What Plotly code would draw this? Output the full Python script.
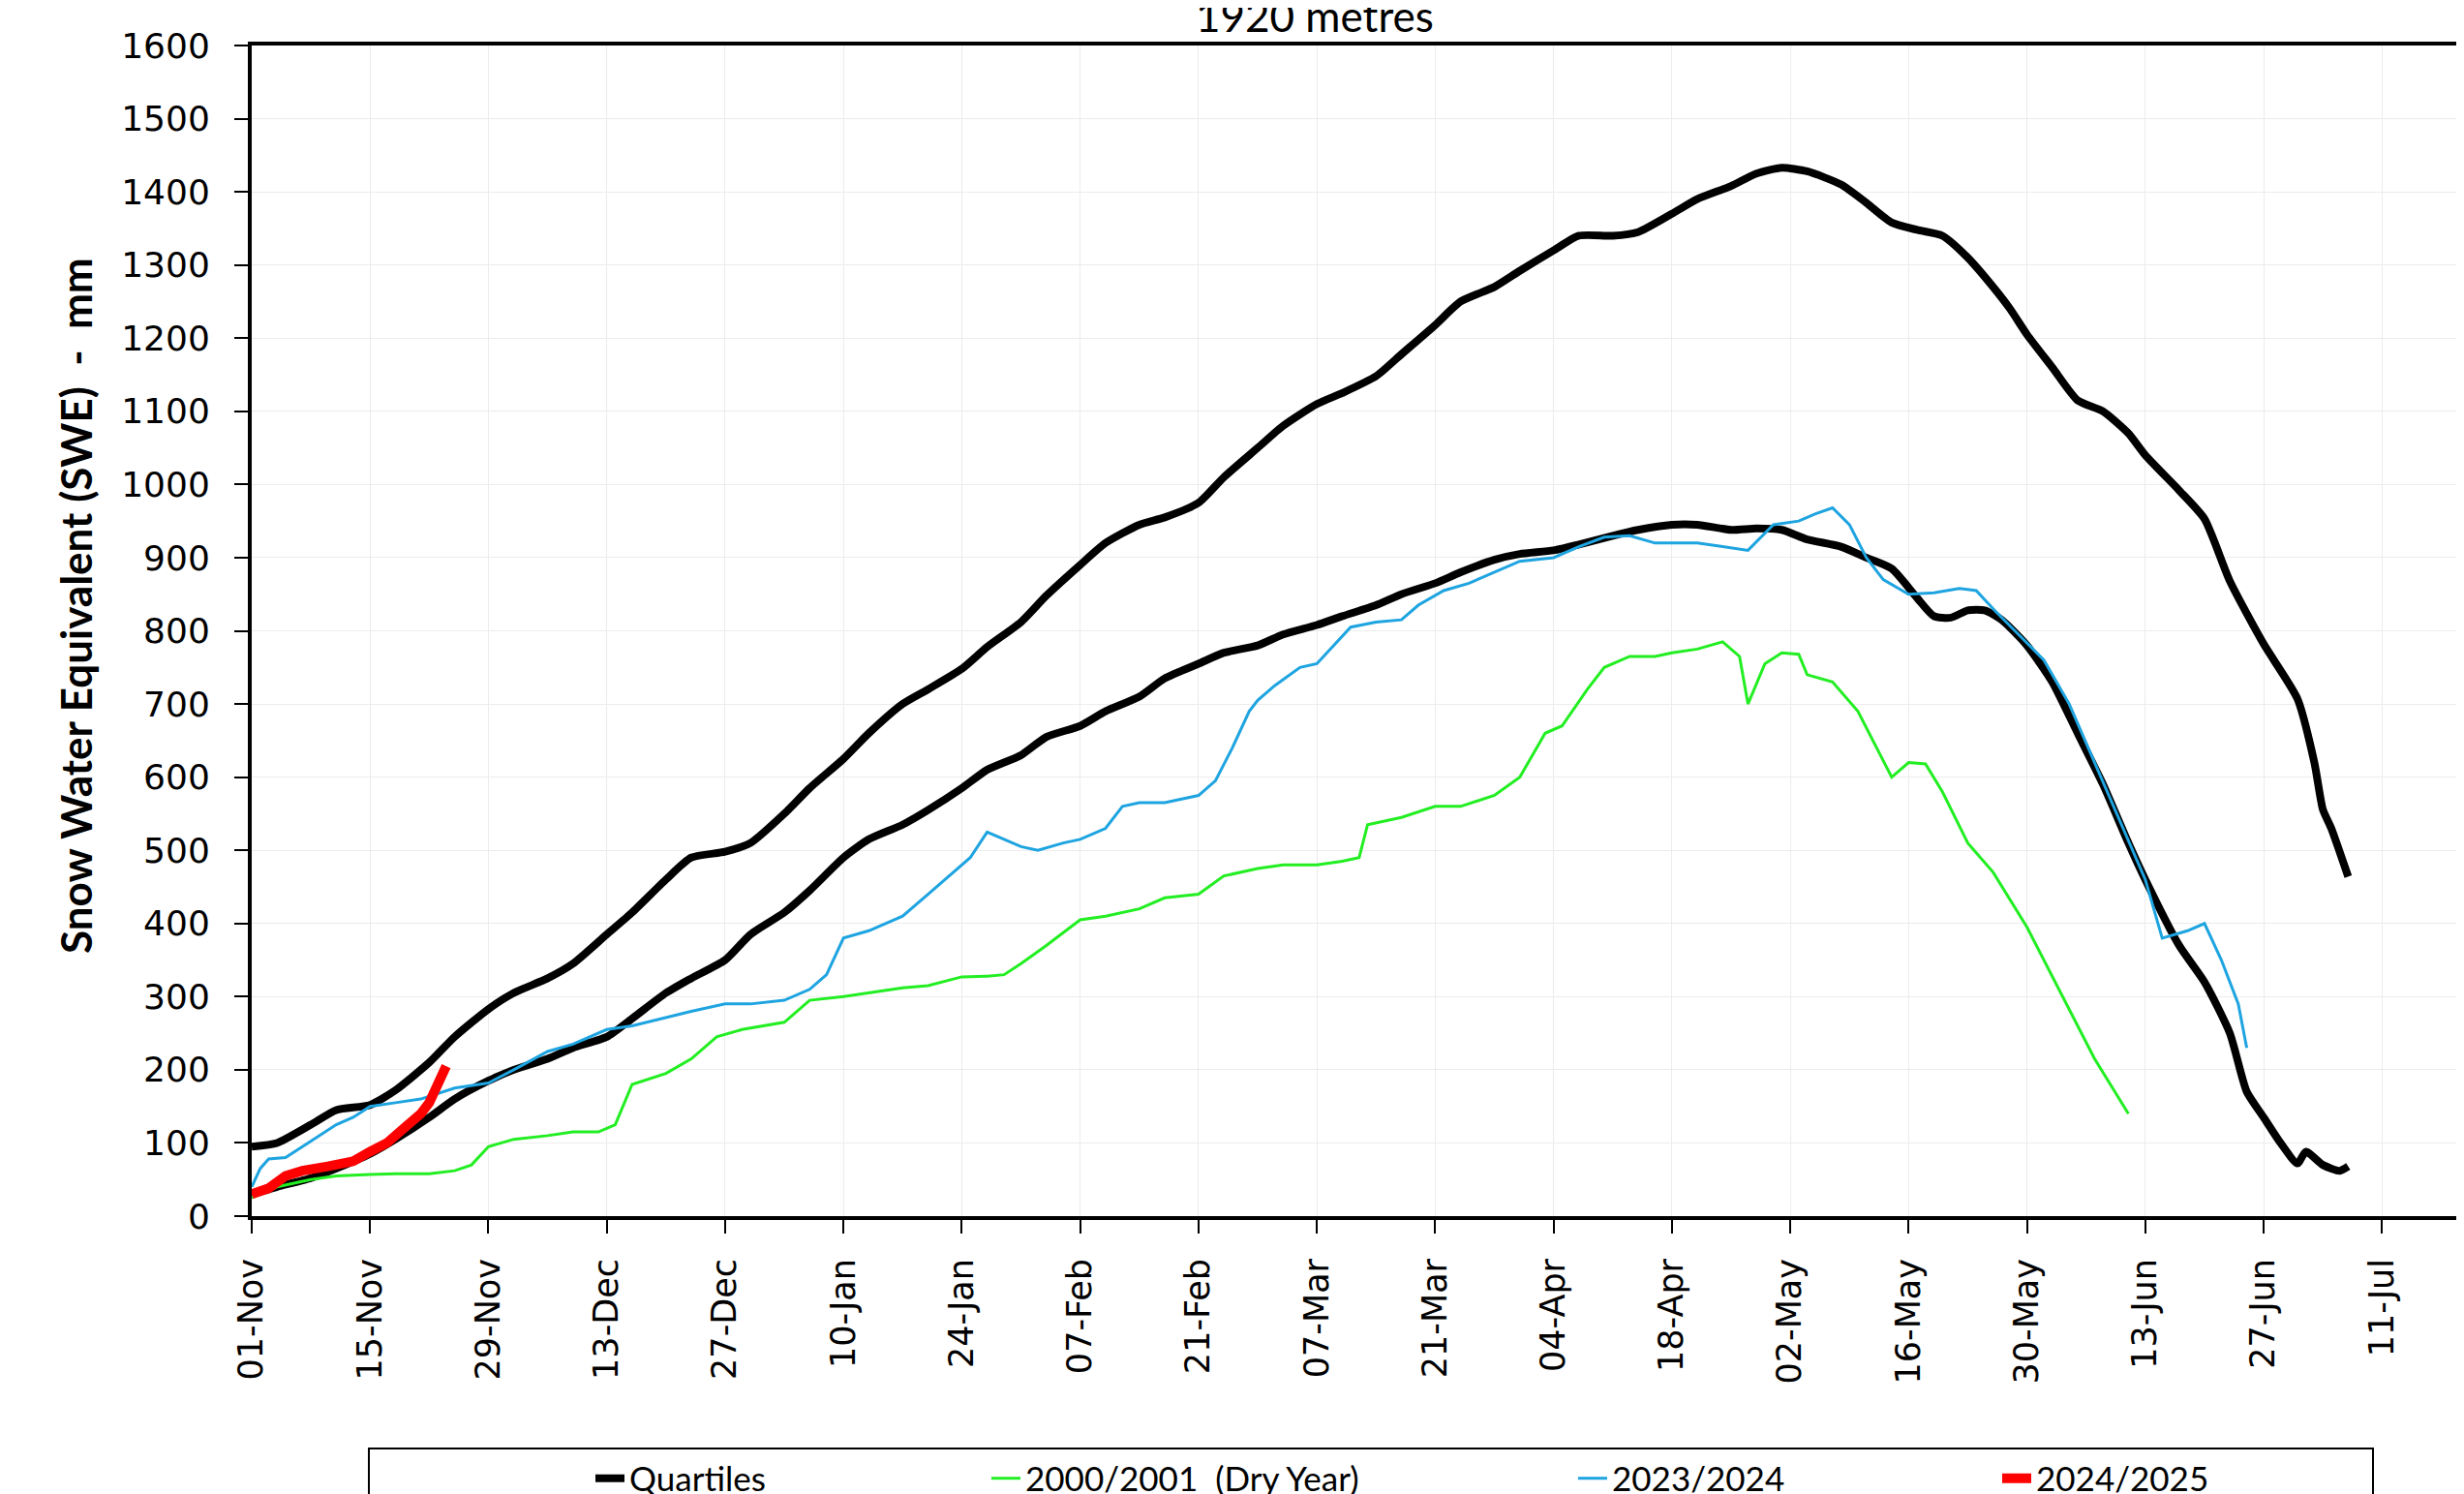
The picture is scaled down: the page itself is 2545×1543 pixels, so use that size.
import datetime as dt
import plotly.graph_objects as go

# ---- data (day offset from 01-Nov, SWE mm) ----
uq_days = [0, 3, 7, 10, 14, 17, 21, 24, 28, 31, 35, 38, 42, 45, 49, 52, 56, 59, 63, 66, 70, 73, 77, 80, 84, 87,
           91, 94, 98, 101, 105, 108, 112, 115, 119, 122, 126, 129, 133, 136, 140, 143, 147, 150, 154, 157, 161,
           164, 168, 171, 175, 178, 181, 184, 188, 191, 194, 197, 200, 203, 206, 208, 210, 213, 216, 219, 222,
           224, 228, 231, 234, 238, 242, 244, 245, 246, 248]
uq_vals = [95, 100, 125, 145, 152, 172, 210, 245, 283, 305, 325, 345, 385, 415, 460, 490, 498, 510, 550, 585, 625,
           660, 700, 720, 748, 778, 812, 848, 890, 920, 945, 955, 975, 1010, 1050, 1080, 1110, 1125, 1148, 1178,
           1218, 1250, 1270, 1292, 1320, 1340, 1340, 1345, 1370, 1390, 1408, 1425, 1433, 1428, 1410, 1385, 1358,
           1348, 1340, 1310, 1270, 1240, 1205, 1160, 1115, 1100, 1070, 1040, 992, 953, 868, 782, 707, 620, 556,
           530, 464]

lq_days = [0, 3, 7, 10, 14, 17, 21, 24, 28, 31, 35, 38, 42, 45, 49, 52, 56, 59, 63, 66, 70, 73, 77, 80, 84, 87, 91,
           94, 98, 101, 105, 108, 112, 115, 119, 122, 126, 129, 133, 136, 140, 143, 147, 150, 154, 157, 161, 164,
           168, 171, 175, 178, 181, 184, 188, 191, 194, 197, 199, 201, 203, 205, 207, 210, 213, 216, 219, 222, 224,
           228, 231, 234, 236, 238, 240, 242, 243, 245, 247, 248]
lq_vals = [30, 40, 52, 65, 85, 105, 135, 160, 185, 200, 215, 230, 245, 270, 305, 325, 350, 385, 415, 445, 490, 515,
           535, 555, 585, 610, 630, 655, 670, 690, 710, 735, 755, 770, 780, 795, 808, 820, 835, 850, 865, 880, 897,
           905, 910, 918, 930, 938, 945, 945, 938, 940, 938, 925, 915, 900, 885, 845, 820, 818, 828, 828, 815, 780,
           730, 660, 590, 510, 460, 370, 320, 250, 170, 135, 100, 72, 88, 70, 62, 68]

dry_days = [0, 3, 7, 10, 14, 17, 21, 24, 26, 28, 31, 35, 38, 41, 43, 45, 49, 52, 55, 58, 63, 66, 70, 73, 77, 80,
            84, 87, 89, 91, 94, 98, 101, 105, 108, 112, 115, 119, 122, 126, 129, 131, 132, 136, 140, 143, 147, 150,
            153, 155, 158, 160, 163, 166, 168, 171, 174, 176, 177, 179, 181, 183, 184, 187, 190, 194, 196, 198,
            200, 203, 206, 210, 214, 218, 222]
dry_vals = [25, 40, 50, 55, 57, 58, 58, 62, 70, 95, 105, 110, 115, 115, 125, 180, 195, 215, 245, 255, 265, 295, 300,
            305, 312, 315, 327, 328, 330, 345, 370, 405, 410, 420, 435, 440, 465, 475, 480, 480, 485, 490, 535, 545,
            560, 560, 575, 600, 660, 670, 720, 750, 765, 765, 770, 775, 785, 765, 700, 755, 770, 768, 740, 730, 690,
            600, 620, 618, 580, 510, 470, 395, 305, 215, 140]

y2324_days = [0, 1, 2, 4, 6, 8, 10, 12, 14, 17, 20, 24, 28, 31, 35, 38, 42, 45, 49, 52, 56, 59, 63, 66, 68, 70, 73,
              77, 80, 83, 85, 87, 89, 91, 93, 96, 98, 101, 103, 105, 108, 112, 114, 116, 118, 119, 121, 124, 126,
              128, 130, 133, 136, 138, 141, 144, 147, 150, 154, 157, 160, 163, 166, 168, 171, 174, 177, 180, 183,
              185, 187, 189, 191, 193, 196, 199, 202, 204, 206, 209, 212, 215, 218, 221, 224, 226, 229, 231, 233,
              235, 236]
y2324_vals = [40, 65, 78, 80, 95, 110, 125, 135, 150, 155, 160, 175, 182, 200, 225, 235, 255, 260, 272, 280, 290,
              290, 295, 310, 330, 380, 390, 410, 440, 470, 490, 525, 515, 505, 500, 510, 515, 530, 560, 565, 565,
              575, 595, 640, 690, 705, 725, 750, 755, 780, 805, 812, 815, 835, 855, 865, 880, 895, 900, 915, 928,
              930, 920, 920, 920, 915, 910, 945, 950, 960, 968, 945, 900, 870, 850, 852, 858, 855, 830, 795, 760,
              700, 620, 540, 460, 380, 390, 400, 350, 290, 230]

y2425_days = [0, 2, 4, 6, 9, 12, 14, 16, 18, 20, 21, 22, 23]
y2425_vals = [30, 38, 55, 62, 68, 75, 88, 100, 120, 140, 155, 180, 205]

y_ticks = list(range(0, 1601, 100))

START = dt.datetime(2022, 11, 1)


def to_dates(days):
    return [START + dt.timedelta(days=d) for d in days]


TICK_FONT = dict(family="DejaVu Sans, Verdana, sans-serif", size=35, color="black")
HUMAN = "Lato, Open Sans, sans-serif"

fig = go.Figure()
fig.add_trace(go.Scatter(x=to_dates(uq_days), y=uq_vals, mode="lines", name="Quartiles",
                         line=dict(color="black", width=8, shape="spline", smoothing=0.6),
                         legendgroup="q", legend="legend"))
fig.add_trace(go.Scatter(x=to_dates(lq_days), y=lq_vals, mode="lines", name="Quartiles",
                         line=dict(color="black", width=8, shape="spline", smoothing=0.6),
                         legendgroup="q", showlegend=False))
fig.add_trace(go.Scatter(x=to_dates(dry_days), y=dry_vals, mode="lines", name="2000/2001\u00a0\u00a0(Dry Year)",
                         line=dict(color="#22ee22", width=3), legend="legend2"))
fig.add_trace(go.Scatter(x=to_dates(y2324_days), y=y2324_vals, mode="lines", name="2023/2024",
                         line=dict(color="#1ea4e0", width=3), legend="legend3"))
fig.add_trace(go.Scatter(x=to_dates(y2425_days), y=y2425_vals, mode="lines", name="2024/2025",
                         line=dict(color="#ff0000", width=10), legend="legend4"))

OFF = 8                       # page body margin of the html page
W, H = 2545 - OFF, 1543 - OFF
L, T, B = 260 - OFF, 47 - OFF, 1256 - OFF
PW, PH = W - L, B - T


def px(xp):
    return (xp - OFF - L) / PW


def py(yp):
    return (B - (yp - OFF)) / PH


leg_common = dict(orientation="h", yanchor="middle", xanchor="left", y=py(1527),
                  font=dict(family=HUMAN, size=35, color="black"), bgcolor="rgba(0,0,0,0)")
fig.update_layout(
    width=W, height=H,
    margin=dict(l=L, r=0, t=T, b=H - B, autoexpand=False),
    paper_bgcolor="white", plot_bgcolor="white",
    legend=dict(x=px(657 - 47), **leg_common),
    legend2=dict(x=px(1066 - 47), **leg_common),
    legend3=dict(x=px(1672 - 47), **leg_common),
    legend4=dict(x=px(2110 - 47), **leg_common),
    xaxis=dict(
        type="date",
        range=[START, START + dt.timedelta(days=261.7)],
        tick0=START, dtick=14 * 86400000, tickformat="%d-%b", tickangle=-90,
        ticks="outside", ticklen=14, tickwidth=2, tickcolor="black", ticklabelstandoff=12,
        tickfont=TICK_FONT,
        showline=True, linewidth=4, linecolor="black", mirror=True,
        showgrid=True, gridcolor="#ececec", gridwidth=1, zeroline=False,
    ),
    yaxis=dict(
        range=[0, 1600], tickvals=y_ticks,
        ticks="outside", ticklen=14, tickwidth=2, tickcolor="black", ticklabelstandoff=18,
        tickfont=dict(TICK_FONT, size=36),
        showline=True, linewidth=4, linecolor="black",
        showgrid=True, gridcolor="#ececec", gridwidth=1, zeroline=False,
    ),
    annotations=[
        dict(text="1920 metres", xref="paper", yref="paper", x=px(1358), y=py(44),
             xanchor="center", yanchor="bottom", showarrow=False,
             font=dict(family=HUMAN, size=44, color="black")),
        dict(text="<b>Snow Water Equivalent (SWE)\u00a0\u00a0-\u00a0\u00a0mm</b>", xref="paper", yref="paper",
             x=px(78), y=py(626), xanchor="center", yanchor="middle", textangle=-90, showarrow=False,
             font=dict(family=HUMAN, size=44, color="black")),
    ],
    shapes=[
        dict(type="rect", xref="paper", yref="paper", x0=px(381), x1=px(2451), y0=py(1496), y1=py(1620),
             line=dict(color="black", width=2), fillcolor="rgba(0,0,0,0)", layer="below"),
    ],
)

fig.write_html("out.html")
